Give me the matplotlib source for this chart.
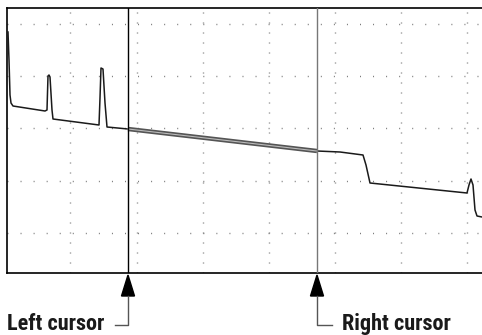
import matplotlib.pyplot as plt
from matplotlib.patches import Polygon

# trace (distance / level, screen units)
dist = [1, 2, 3, 4, 6, 38, 40, 41, 42, 43, 45, 46,
        92, 93, 94, 96, 98, 100, 121, 310, 333, 356, 359, 363,
        460, 462, 464, 466, 468, 470, 475]
level = [241, 213, 178, 170, 167, 162, 163, 197, 198, 196, 163, 154,
         148, 175, 205, 204, 170, 146, 144, 122, 121, 118, 108, 90,
         80, 88, 94, 88, 63, 57, 56]

fit_x = [121, 310]
fit_y = [144, 122]

left_cursor = 121
right_cursor = 310

x_grid = [63, 130, 196, 262, 328, 394, 460]
y_grid = [40, 92, 145, 197, 249]

W, H = 482, 335
fig = plt.figure(figsize=(W / 100, H / 100), dpi=100)

ax = fig.add_axes([7 / W, (H - 273) / H, (W - 7) / W, 265 / H])
ax.set_xlim(0, 475)
ax.set_ylim(0, 265)
for v in x_grid:
    ax.axvline(v, color="#777777", lw=1.0, ls=(0, (0.7, 6.5)), zorder=1)
for h in y_grid:
    ax.axhline(h, color="#777777", lw=1.0, ls=(0, (0.7, 8.7)), zorder=1)

ax.plot(dist, level, color="#1a1a1a", lw=1.1, zorder=3)
ax.plot(fit_x, fit_y, color="#555555", lw=3.2, solid_capstyle="butt", zorder=4)
ax.plot(fit_x, fit_y, color="#bbbbbb", lw=0.8, zorder=5)

ax.axvline(left_cursor, color="black", lw=1.0, zorder=6)
ax.axvline(right_cursor, color="#777777", lw=1.0, zorder=6)

ax.set_xticks([])
ax.set_yticks([])
for side in ["left", "top", "bottom"]:
    ax.spines[side].set_linewidth(1.2)
ax.spines["right"].set_visible(False)

# annotation layer in figure pixel units
ov = fig.add_axes([0, 0, 1, 1])
ov.set_xlim(0, W)
ov.set_ylim(H, 0)
ov.axis("off")

for cx, dx in [(128, -13), (317, 15)]:
    ov.add_patch(Polygon([[cx, 275], [cx - 6.5, 296], [cx + 6.5, 296]],
                         closed=True, color="black"))
    ov.plot([cx, cx, cx + dx], [296, 325, 325], color="#555555", lw=1.0)

font = ["Roboto Condensed", "Archivo Narrow", "DejaVu Sans"]
ov.text(7, 330, "Left cursor", family=font, stretch="condensed",
        fontsize=16, weight="bold", ha="left", va="baseline", color="#1a1a1a")
ov.text(342, 330, "Right cursor", family=font, stretch="condensed",
        fontsize=16, weight="bold", ha="left", va="baseline", color="#1a1a1a")

fig.savefig("out.png", dpi=100)
